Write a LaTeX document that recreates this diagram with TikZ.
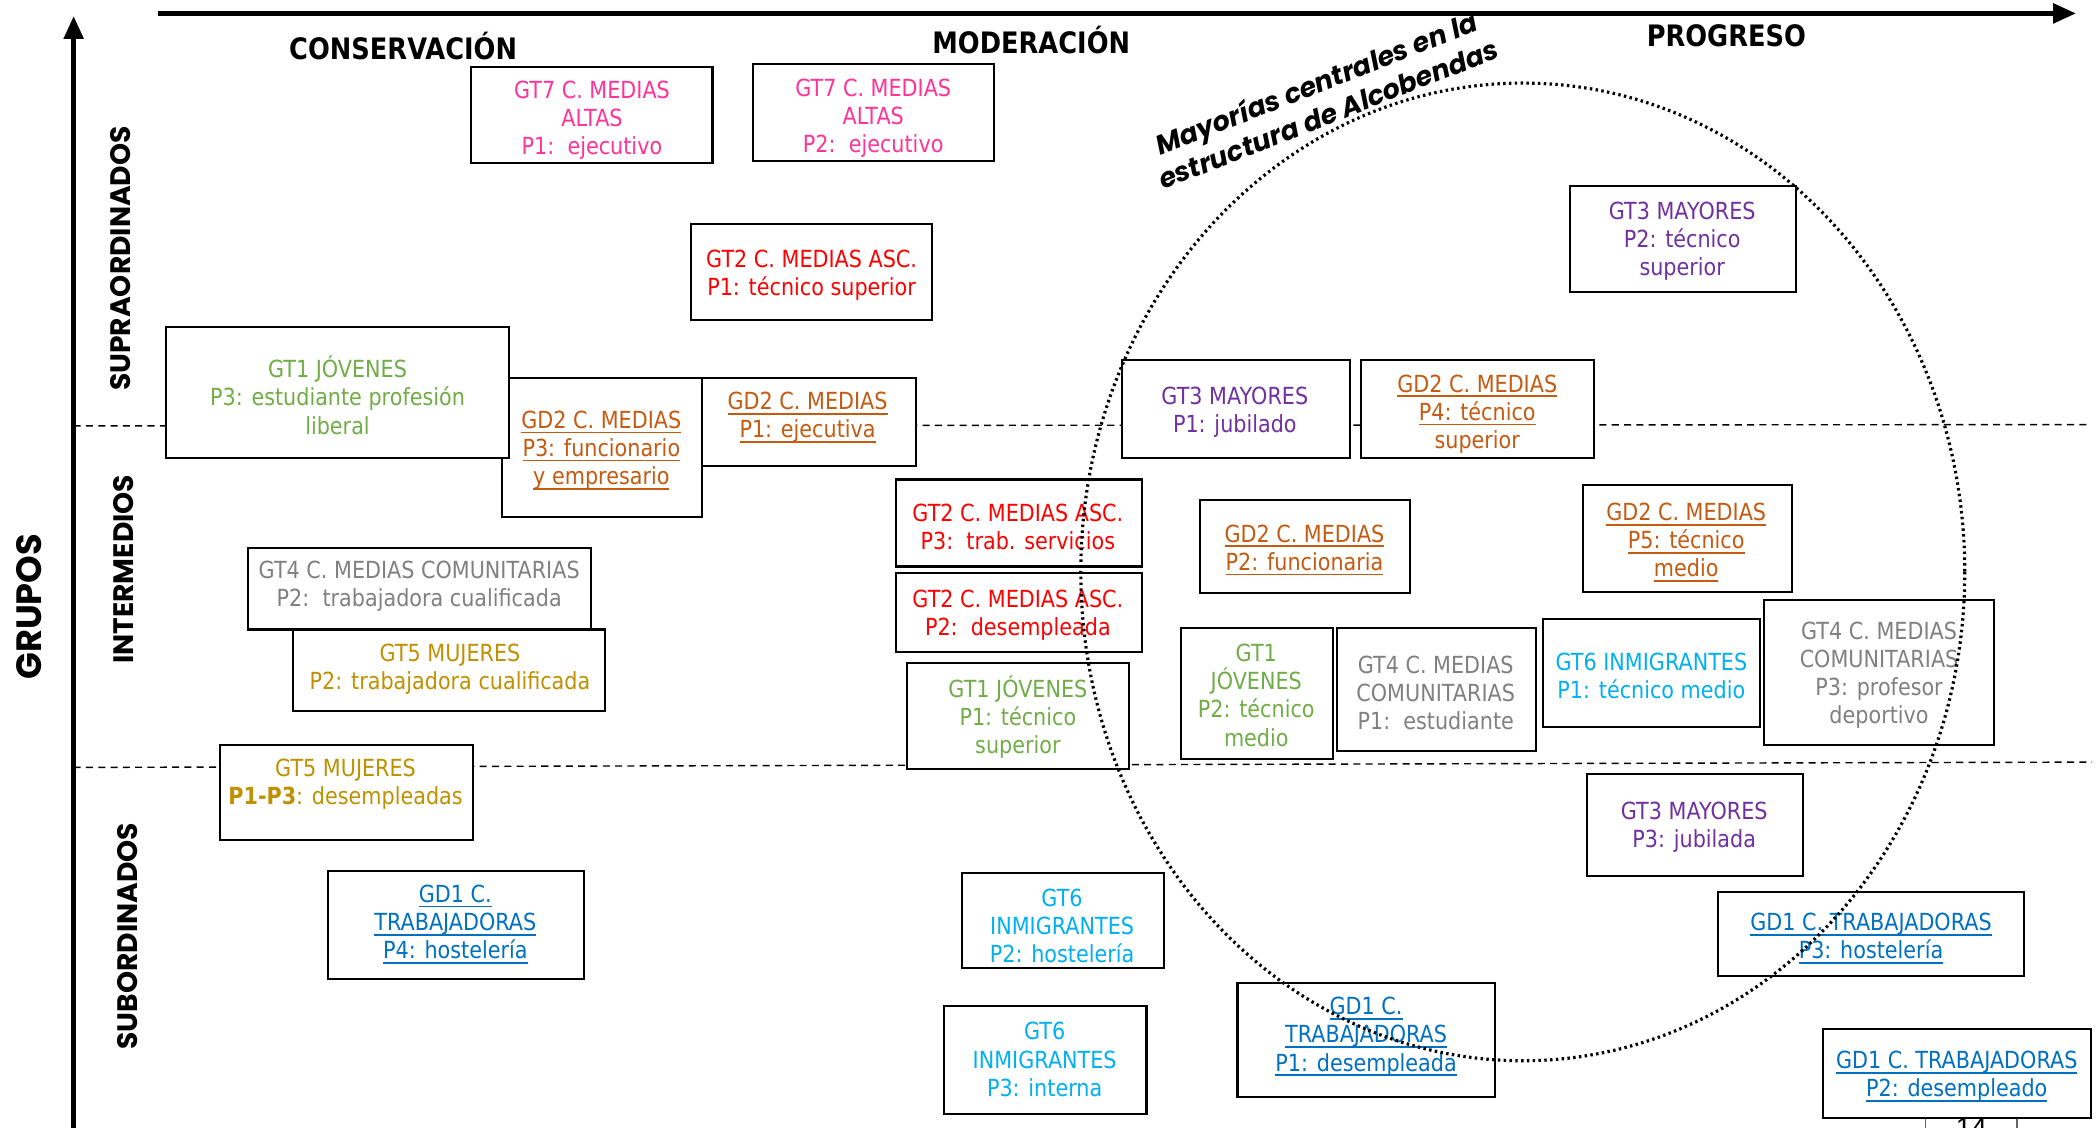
\documentclass[tikz,border=0pt]{standalone}
\usepackage{fontspec}
\setmainfont{DejaVu Sans}[FakeStretch=0.88]
\newfontfamily\popfont{Poppins}
\newfontfamily\hdrfont{DejaVu Sans}[FakeStretch=0.87]
\newfontfamily\pgfont{Liberation Sans}
\usetikzlibrary{fit,arrows.meta}
\newcommand\myul[1]{\setbox0\hbox{#1}\rlap{\rule[-1.45pt]{\wd0}{0.5pt}}\box0}
\definecolor{cpink}{HTML}{FF3399}
\definecolor{cred}{HTML}{FF0000}
\definecolor{cgreen}{HTML}{70AD47}
\definecolor{corange}{HTML}{C55A11}
\definecolor{cpurple}{HTML}{7030A0}
\definecolor{cgray}{HTML}{808080}
\definecolor{cgold}{HTML}{BF9000}
\definecolor{ccyan}{HTML}{00B0F0}
\definecolor{cblue}{HTML}{0070C0}
\tikzset{
  box/.style={draw=black, line width=0.6pt, fill=white, inner sep=0pt},
  txt/.style={align=center, font=\fontsize{6.7}{8}\selectfont, inner sep=0pt, yshift=-0.28mm},
  hdr/.style={font=\hdrfont\bfseries\fontsize{8.4}{10}\selectfont, inner sep=0pt},
  axlbl/.style={font=\popfont\bfseries\fontsize{8}{10}\selectfont, rotate=90, inner sep=0pt},
  divider/.style={line width=0.4pt, dash pattern=on 2pt off 1.5pt},
  axisline/.style={line width=1.3pt, -{Triangle[length=6.5pt,width=5.5pt]}},
}
\begin{document}
\begin{tikzpicture}[x=0.1339mm,y=-0.1339mm]
\useasboundingbox (0,0) rectangle (1568,842);
% axes
\coordinate (hx0) at (118,10);
\coordinate (hx1) at (1550,10);
\coordinate (vy0) at (55,845);
\coordinate (vy1) at (55,12);
\draw[axisline] (hx0) -- (hx1);
\draw[axisline] (vy0) -- (vy1);
% dividers
\coordinate (d1a) at (55,318);
\coordinate (d1b) at (1558,317);
\coordinate (d2a) at (55,573);
\coordinate (d2b) at (1562,569);
\draw[divider] (d1a) -- (d1b);
\draw[divider] (d2a) -- (d2b);
% headers
\node[hdr] (hcons) at (301,34) {CONSERVACIÓN};
\node[hdr] (hmod) at (770,30) {MODERACIÓN};
\node[hdr] (hprog) at (1289,27) {PROGRESO};
\node[axlbl, font=\popfont\bfseries\fontsize{10}{12}\selectfont] (grupos) at (22,453) {GRUPOS};
\node[axlbl] (supra) at (90,193) {SUPRAORDINADOS};
\node[axlbl] (inter) at (92,425) {INTERMEDIOS};
\node[axlbl] (subor) at (95,699) {SUBORDINADOS};

% boxes
\node[box, fit={(352,50)(532,122)}] (b1) {};
\node[txt, text=cpink] (t1) at (442,87.5) {GT7 C. MEDIAS\\ALTAS\\P1:\ \ ejecutivo};
\node[box, fit={(562,48)(742,120)}] (b2) {};
\node[txt, text=cpink] (t2) at (652,86) {GT7 C. MEDIAS\\ALTAS\\P2:\ \ ejecutivo};
\node[box, fit={(516,167)(696,239)}] (b3) {};
\node[txt, text=cred] (t3) at (606,203.5) {GT2 C. MEDIAS ASC.\\P1: técnico superior};

\node[box, fit={(375,282)(524,386)}] (b5) {};
\node[txt, text=corange] (t5) at (449,334) {\myul{GD2 C. MEDIAS}\\\myul{P3: funcionario}\\\myul{y empresario}};
\node[box, fit={(124,244)(380,342)}] (b4) {};
\node[txt, text=cgreen] (t4) at (252,293) {GT1 JÓVENES\\P3: estudiante profesión\\liberal};
\node[box, fit={(524,282)(684,348)}] (b6) {};
\node[txt, text=corange] (t6) at (603,309.5) {\myul{GD2 C. MEDIAS}\\\myul{P1: ejecutiva}};

\node[box, fit={(669,358)(853,423)}] (b7) {};
\node[txt, text=cred] (t7) at (760,391) {GT2 C. MEDIAS ASC.\\P3:\ \ trab. servicios};
\node[box, fit={(669,428)(853,487)}] (b8) {};
\node[txt, text=cred] (t8) at (760,457) {GT2 C. MEDIAS ASC.\\P2:\ \ desempleada};
\node[box, fit={(677,495)(843,574)}] (b9) {};
\node[txt, text=cgreen] (t9) at (760,533.5) {GT1 JÓVENES\\P1: técnico\\superior};

\node[box, fit={(896,373)(1053,443)}] (b10) {};
\node[txt, text=corange] (t10) at (974,408.5) {\myul{GD2 C. MEDIAS}\\\myul{P2: funcionaria}};
\node[box, fit={(838,269)(1008,342)}] (b11) {};
\node[txt, text=cpurple] (t11) at (922,305.5) {GT3 MAYORES\\P1: jubilado};
\node[box, fit={(1016,269)(1190,342)}] (b12) {};
\node[txt, text=corange] (t12) at (1103,307) {\myul{GD2 C. MEDIAS}\\\myul{P4: técnico}\\superior};
\node[box, fit={(1172,139)(1341,218)}] (b13) {};
\node[txt, text=cpurple] (t13) at (1256,178) {GT3 MAYORES\\P2: técnico\\superior};
\node[box, fit={(1182,362)(1338,442)}] (b14) {};
\node[txt, text=corange] (t14) at (1259,403) {\myul{GD2 C. MEDIAS}\\\myul{P5: técnico}\\\myul{medio}};

\node[box, fit={(185,409)(441,470)}] (b15) {};
\node[txt, text=cgray] (t15) at (313,435.5) {GT4 C. MEDIAS COMUNITARIAS\\P2:\ \ trabajadora cualificada};
\node[box, fit={(219,470)(452,531)}] (b16) {};
\node[txt, text=cgold] (t16) at (336,497.5) {GT5 MUJERES\\P2: trabajadora cualificada};
\node[box, fit={(164,556)(353,627)}] (b17) {};
\node[txt, text=cgold] (t17) at (258,583.5) {GT5 MUJERES\\\textbf{P1-P3}: desempleadas};

\node[box, fit={(882,469)(995,567)}] (b18) {};
\node[txt, text=cgreen] (t18) at (938,517) {GT1\\JÓVENES\\P2: técnico\\medio};
\node[box, fit={(998,469)(1147,561)}] (b19) {};
\node[txt, text=cgray] (t19) at (1072,515) {GT4 C. MEDIAS\\COMUNITARIAS\\P1:\ \ estudiante};
\node[box, fit={(1152,462)(1314,543)}] (b20) {};
\node[txt, text=ccyan] (t20) at (1233,502.5) {GT6 INMIGRANTES\\P1: técnico medio};
\node[box, fit={(1317,448)(1489,556)}] (b21) {};
\node[txt, text=cgray] (t21) at (1403,502) {GT4 C. MEDIAS\\COMUNITARIAS\\P3: profesor\\deportivo};
\node[box, fit={(1185,578)(1346,654)}] (b22) {};
\node[txt, text=cpurple] (t22) at (1265,615.5) {GT3 MAYORES\\P3: jubilada};

\node[box, fit={(245,650)(436,731)}] (b23) {};
\node[txt, text=cblue] (t23) at (340,688) {\myul{GD1 C.}\\\myul{TRABAJADORAS}\\\myul{P4: hostelería}};
\node[box, fit={(718,652)(869,723)}] (b24) {};
\node[txt, text=ccyan] (t24) at (793,689) {GT6\\INMIGRANTES\\P2: hostelería};
\node[box, fit={(705,751)(856,832)}] (b25) {};
\node[txt, text=ccyan] (t25) at (780,789) {GT6\\INMIGRANTES\\P3: interna};
\node[box, fit={(924,734)(1116,819)}] (b26) {};
\node[txt, text=cblue] (t26) at (1020,772) {\myul{GD1 C.}\\\myul{TRABAJADORAS}\\\myul{P1: desempleada}};
\node[box, fit={(1283,666)(1511,729)}] (b27) {};
\node[txt, text=cblue] (t27) at (1397,698.5) {\myul{GD1 C. TRABAJADORAS}\\\myul{P3: hostelería}};

% page fragment
\begin{scope}
\clip (0,0) rectangle (1568,842);
\coordinate (pg1a) at (1438,835);
\coordinate (pg1b) at (1438,850);
\coordinate (pg2a) at (1506,835);
\coordinate (pg2b) at (1506,850);
\draw[line width=0.3pt, black!60] (pg1a) -- (pg1b);
\draw[line width=0.3pt, black!60] (pg2a) -- (pg2b);
\node[font=\pgfont\fontsize{8}{9}\selectfont, anchor=north, inner sep=0pt] (pgnum) at (1472,834) {14};
\end{scope}
\node[box, fit={(1361,768)(1561,835)}] (b28) {};
\node[txt, text=cblue] (t28) at (1461,801.5) {\myul{GD1 C. TRABAJADORAS}\\\myul{P2: desempleado}};

% central majorities ellipse
\draw[line width=0.9pt, dash pattern=on 0.7pt off 0.95pt] (1137,427) ellipse [x radius=330, y radius=365];
\node[rotate=21.5, align=center, inner sep=0pt, font=\popfont\bfseries\itshape\fontsize{7.7}{9.4}\selectfont] (maj) at (987,73) {Mayorías centrales en la\\estructura de Alcobendas};
\end{tikzpicture}
\end{document}
